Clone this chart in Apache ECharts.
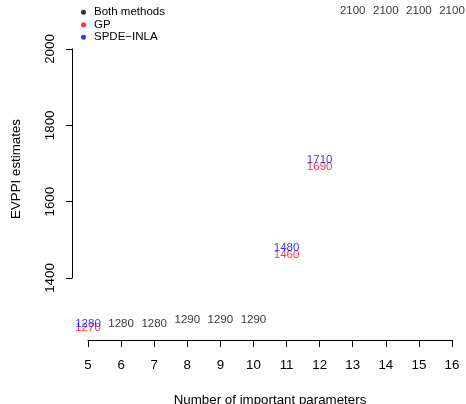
<!DOCTYPE html>
<html>
<head>
<meta charset="utf-8">
<script src="https://cdn.jsdelivr.net/npm/echarts@6/dist/echarts.min.js"></script>
<style>html,body{margin:0;padding:0;background:#fff;}#c{width:466px;height:404px;}</style>
</head>
<body>
<div id="c"></div>
<script>
// Data
const bothX = [6, 7, 8, 9, 10, 13, 14, 15, 16];
const bothY = [1280, 1280, 1290, 1290, 1290, 2100, 2100, 2100, 2100];
const gpX = [5, 11, 12];
const gpY = [1270, 1460, 1690];
const spdeX = [5, 11, 12];
const spdeY = [1280, 1480, 1710];
const seriesNames = ['Both methods', 'GP', 'SPDE\u2212INLA'];
const xTicks = [5, 6, 7, 8, 9, 10, 11, 12, 13, 14, 15, 16];
const yTicks = [1400, 1600, 1800, 2000];

const FONT = '"Liberation Sans", Arial, Helvetica, sans-serif';
const pair = (xs, ys) => xs.map((x, i) => [x, ys[i]]);

function textSeries(name, data, color) {
  return {
    type: 'scatter',
    name: name,
    data: data,
    symbol: 'circle',
    symbolSize: 0,
    clip: false,
    itemStyle: { color: color },
    label: {
      show: true,
      position: 'inside',
      offset: [0, 1],
      formatter: p => String(p.value[1]),
      color: color,
      fontFamily: FONT,
      fontSize: 11.5
    },
    labelLayout: { hideOverlap: false },
    emphasis: { disabled: true }
  };
}

const chart = echarts.init(document.getElementById('c'), null, { renderer: 'canvas' });
chart.setOption({
  animation: false,
  backgroundColor: '#ffffff',
  textStyle: { fontFamily: FONT },
  grid: { left: 88, right: 14, top: 49, bottom: 126, containLabel: false, outerBoundsMode: 'none' },
  legend: {
    orient: 'vertical',
    left: 76,
    top: 1,
    itemGap: 0,
    itemWidth: 11,
    itemHeight: 5,
    icon: 'circle',
    selectedMode: false,
    textStyle: { fontFamily: FONT, fontSize: 11.5, color: '#000', lineHeight: 12.5, padding: [0, 0, 0, 0] },
    data: seriesNames
  },
  xAxis: {
    type: 'value',
    min: xTicks[0],
    max: xTicks[xTicks.length - 1],
    interval: 1,
    offset: 62,
    splitLine: { show: false },
    axisLine: { show: true, lineStyle: { color: '#000', width: 1 } },
    axisTick: { show: true, length: 7, lineStyle: { color: '#000' } },
    axisLabel: { color: '#000', fontSize: 13.33, fontFamily: FONT, margin: 19, formatter: v => String(v) },
    name: 'Number of important parameters',
    nameLocation: 'middle',
    nameGap: 54,
    nameTextStyle: { color: '#000', fontSize: 13.33, fontFamily: FONT }
  },
  yAxis: {
    type: 'value',
    min: yTicks[0],
    max: yTicks[yTicks.length - 1],
    interval: 200,
    offset: 16,
    splitLine: { show: false },
    axisLine: { show: true, lineStyle: { color: '#000', width: 1 } },
    axisTick: { show: true, length: 6, lineStyle: { color: '#000' } },
    axisLabel: { color: '#000', fontSize: 13.33, fontFamily: FONT, rotate: 90, margin: 15, formatter: v => String(v) }
  },
  graphic: [{
    type: 'text',
    x: 16,
    y: 169,
    rotation: Math.PI / 2,
    style: {
      text: 'EVPPI estimates',
      fill: '#000',
      font: '13.33px ' + FONT,
      align: 'center',
      verticalAlign: 'middle'
    }
  }],
  series: [
    textSeries(seriesNames[0], pair(bothX, bothY), '#000000'),
    textSeries(seriesNames[1], pair(gpX, gpY), '#ff0000'),
    textSeries(seriesNames[2], pair(spdeX, spdeY), '#0000ff')
  ]
});
</script>
</body>
</html>
